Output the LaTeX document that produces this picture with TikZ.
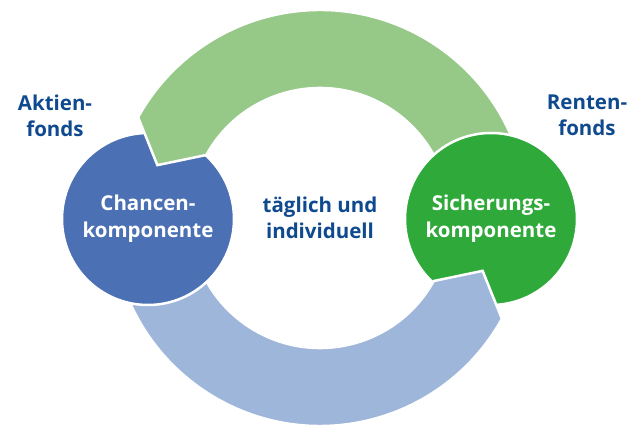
\documentclass[tikz,border=0pt]{standalone}
\usepackage{fontspec}
\setmainfont{Open Sans}

\definecolor{navy}{RGB}{16,74,142}
\definecolor{chanceblue}{RGB}{75,112,180}
\definecolor{lightblue}{RGB}{158,182,218}
\definecolor{lightgreen}{RGB}{150,200,135}
\definecolor{safegreen}{RGB}{47,169,58}

% one ring piece around (ring): flat tail at #1, pointed end at #2
\newcommand{\ringpiece}[2]{([shift={(#1:208)}]ring) arc[start angle=#1, end angle=#2, radius=208]
  -- ([shift={(#2+11:171)}]ring) -- ([shift={(#2:130)}]ring)
  arc[start angle=#2, end angle=#1, radius=130] -- cycle}

\begin{document}
\begin{tikzpicture}[
    x=1pt, y=1pt,
    comp/.style={circle, draw=white, line width=2.5pt, minimum size=172pt, inner sep=0pt,
      text=white, align=center, font=\bfseries\fontsize{20.5}{27}\selectfont},
    fund/.style={text=navy, align=center, font=\bfseries\fontsize{20.5}{26}\selectfont},
    piece/.style={draw=white, line width=2.5pt, line join=miter}
]
\useasboundingbox (0,0) rectangle (629,428);
\coordinate (ring) at (320,210);

% ring pieces
\path[piece, fill=lightgreen] \ringpiece{10}{151};
\path[piece, fill=lightblue] \ringpiece{190}{331};

% components
\node[comp, fill=chanceblue] (chance) at (148,209) {Chancen-\\komponente};
\node[comp, fill=safegreen] (safe) at (491,209) {Sicherungs-\\komponente};

% pointed ends lie on top of the circles
\begin{scope}
  \clip (chance.center) circle (89);
  \path[piece, fill=lightgreen] \ringpiece{10}{151};
\end{scope}
\begin{scope}
  \clip (safe.center) circle (89);
  \path[piece, fill=lightblue] \ringpiece{190}{331};
\end{scope}

% labels
\node[fund] (aktien) at (55,312) {Aktien-\\fonds};
\node[fund] (renten) at (587,313) {Renten-\\fonds};
\node[fund] (daily) at (ring) {täglich und\\individuell};
\end{tikzpicture}
\end{document}
